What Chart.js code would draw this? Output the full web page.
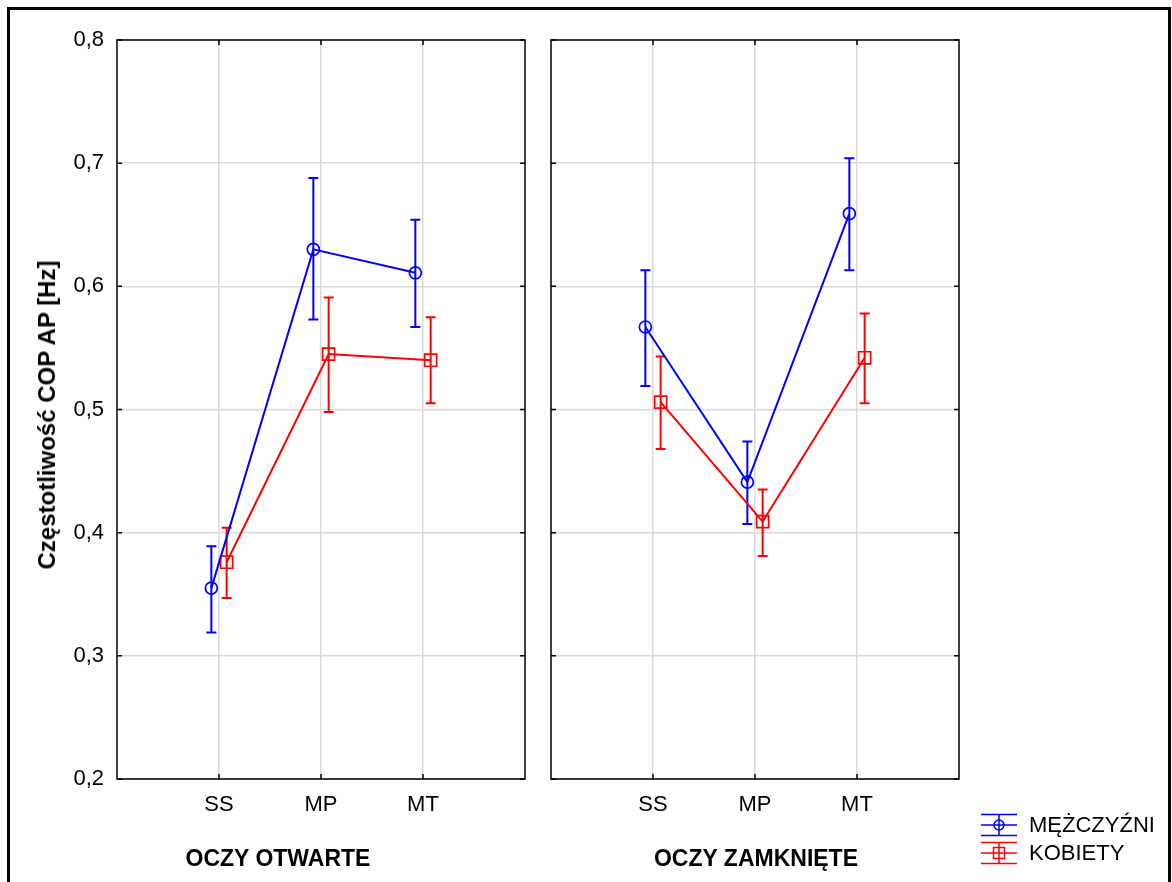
<!DOCTYPE html>
<html>
<head>
<meta charset="utf-8">
<script src="https://cdn.jsdelivr.net/npm/chart.js@4.4.1/dist/chart.umd.min.js"></script>
<style>
  body { margin: 0; background: #fff; overflow: hidden; }
  #page { position: relative; width: 1172px; height: 882px; overflow: hidden; background: #fff;
          font-family: "Liberation Sans", Arial, sans-serif; color: #000; }
  #frame { position: absolute; left: 7px; top: 7px; width: 1158px; height: 900px; border: 3px solid #000; }
  canvas { position: absolute; top: 0; }
  .title { position: absolute; font-weight: bold; font-size: 23px; white-space: nowrap;
           transform: translate(-50%, -50%); }
  #ytitle { left: 47px; top: 415px; font-size: 24px; transform: translate(-50%, -50%) rotate(-90deg); }
</style>
</head>
<body>
<div id="page">
  <div id="frame"></div>
  <canvas id="open" width="540" height="882" style="left:0"></canvas>
  <canvas id="closed" width="632" height="882" style="left:540px"></canvas>
  <div class="title" id="ytitle">Częstotliwość COP AP [Hz]</div>
  <div class="title" id="xtitle1" style="left:278px; top:858px"></div>
  <div class="title" id="xtitle2" style="left:756px; top:858px"></div>
</div>
<script>
const categories = ['SS', 'MP', 'MT'];
const panelTitles = ['OCZY OTWARTE', 'OCZY ZAMKNIĘTE'];
const groups = ['MĘŻCZYŹNI', 'KOBIETY'];
const yTicks = [0.2, 0.3, 0.4, 0.5, 0.6, 0.7, 0.8];

// oczy otwarte
const menOpen = [0.355, 0.630, 0.611];
const menOpenLow = [0.319, 0.573, 0.567];
const menOpenHigh = [0.389, 0.688, 0.654];
const womenOpen = [0.376, 0.545, 0.540];
const womenOpenLow = [0.347, 0.498, 0.505];
const womenOpenHigh = [0.404, 0.591, 0.575];

// oczy zamknięte
const menClosed = [0.567, 0.441, 0.659];
const menClosedLow = [0.519, 0.407, 0.613];
const menClosedHigh = [0.613, 0.474, 0.704];
const womenClosed = [0.506, 0.409, 0.542];
const womenClosedLow = [0.468, 0.381, 0.505];
const womenClosedHigh = [0.543, 0.435, 0.578];

const BLUE = '#0000ff';
const RED = '#ff0000';
const GRID = '#d9d9d9';
const dodge = 0.075;

Chart.defaults.font.family = '"Liberation Sans", Arial, sans-serif';
Chart.defaults.color = '#000';

document.getElementById('xtitle1').textContent = panelTitles[0];
document.getElementById('xtitle2').textContent = panelTitles[1];

function series(label, color, style, radius, means, low, high, shift) {
  return {
    label: label,
    data: means.map((v, i) => ({ x: i + 1 + shift, y: v })),
    errLow: low,
    errHigh: high,
    borderColor: color,
    borderWidth: 2,
    backgroundColor: 'rgba(0,0,0,0)',
    pointStyle: style,
    pointRadius: radius,
    pointBorderWidth: 1.7,
    pointBorderColor: color,
    pointBackgroundColor: 'rgba(0,0,0,0)',
    tension: 0
  };
}

// pionowe słupki błędów z poprzeczkami
const errorBars = {
  id: 'errorBars',
  beforeDatasetsDraw(chart) {
    const ctx = chart.ctx;
    const y = chart.scales.y;
    chart.data.datasets.forEach((ds, di) => {
      const meta = chart.getDatasetMeta(di);
      ctx.save();
      ctx.strokeStyle = ds.borderColor;
      ctx.lineWidth = 2;
      meta.data.forEach((pt, i) => {
        const top = y.getPixelForValue(ds.errHigh[i]);
        const bot = y.getPixelForValue(ds.errLow[i]);
        ctx.beginPath();
        ctx.moveTo(pt.x, top); ctx.lineTo(pt.x, bot);
        ctx.moveTo(pt.x - 5, top); ctx.lineTo(pt.x + 5, top);
        ctx.moveTo(pt.x - 5, bot); ctx.lineTo(pt.x + 5, bot);
        ctx.stroke();
      });
      ctx.restore();
    });
  }
};

// ramka panelu i krótkie znaczniki do środka
const panelFrame = {
  id: 'panelFrame',
  afterDatasetsDraw(chart) {
    const ctx = chart.ctx;
    const a = chart.chartArea;
    const t = 5;
    ctx.save();
    ctx.strokeStyle = '#000';
    ctx.lineWidth = 1.5;
    ctx.beginPath();
    chart.scales.y.ticks.forEach(tk => {
      const py = chart.scales.y.getPixelForValue(tk.value);
      ctx.moveTo(a.left, py); ctx.lineTo(a.left + t, py);
      ctx.moveTo(a.right, py); ctx.lineTo(a.right - t, py);
    });
    chart.scales.x.ticks.forEach(tk => {
      const px = chart.scales.x.getPixelForValue(tk.value);
      ctx.moveTo(px, a.top); ctx.lineTo(px, a.top + t);
      ctx.moveTo(px, a.bottom); ctx.lineTo(px, a.bottom - t);
    });
    ctx.stroke();
    ctx.strokeRect(a.left, a.top, a.right - a.left, a.bottom - a.top);
    ctx.restore();
  }
};

// legenda w prawym dolnym rogu
const sideLegend = {
  id: 'sideLegend',
  afterDraw(chart) {
    const ctx = chart.ctx;
    const a = chart.chartArea;
    const x0 = a.right + 22, x1 = a.right + 58, xc = (x0 + x1) / 2;
    ctx.save();
    chart.data.datasets.forEach((ds, i) => {
      const yc = a.bottom + 46 + i * 28;
      ctx.strokeStyle = ds.borderColor;
      ctx.lineWidth = 1.5;
      ctx.beginPath();
      [-10.5, 0, 10.5].forEach(d => { ctx.moveTo(x0, yc + d); ctx.lineTo(x1, yc + d); });
      ctx.moveTo(xc, yc - 10.5); ctx.lineTo(xc, yc + 10.5);
      ctx.stroke();
      ctx.beginPath();
      if (ds.pointStyle === 'circle') ctx.arc(xc, yc, 5, 0, Math.PI * 2);
      else ctx.rect(xc - 5.5, yc - 5.5, 11, 11);
      ctx.stroke();
      ctx.fillStyle = '#000';
      ctx.font = '22px "Liberation Sans", Arial, sans-serif';
      ctx.textBaseline = 'middle';
      ctx.fillText(ds.label, a.right + 70, yc + 1);
    });
    ctx.restore();
  }
};

function makeChart(id, datasets, showY, padRight, yWidth) {
  return new Chart(document.getElementById(id), {
    type: 'line',
    data: { datasets: datasets },
    plugins: [errorBars, panelFrame, sideLegend].slice(0, id === 'closed' ? 3 : 2),
    options: {
      responsive: false,
      animation: false,
      devicePixelRatio: 1,
      layout: { padding: { top: 40, right: padRight, left: 0, bottom: 0 } },
      plugins: { legend: { display: false }, tooltip: { enabled: false } },
      scales: {
        x: {
          type: 'linear',
          min: 0,
          max: 4,
          afterBuildTicks: s => { s.ticks = categories.map((c, i) => ({ value: i + 1 })); },
          afterFit: s => { s.height = 103; },
          ticks: {
            callback: v => categories[v - 1],
            font: { size: 22 },
            color: '#000',
            padding: 13,
            maxRotation: 0,
            autoSkip: false
          },
          grid: { color: GRID, lineWidth: 1.5, drawTicks: false },
          border: { display: false }
        },
        y: {
          min: 0.2,
          max: 0.8,
          afterBuildTicks: s => { s.ticks = yTicks.map(v => ({ value: v })); },
          afterFit: s => { s.width = yWidth; },
          ticks: {
            display: showY,
            callback: v => v.toFixed(1).replace('.', ','),
            font: { size: 22 },
            color: '#000',
            padding: 13
          },
          grid: { color: GRID, lineWidth: 1.5, drawTicks: false },
          border: { display: false }
        }
      }
    }
  });
}

makeChart('open', [
  series(groups[0], BLUE, 'circle', 6, menOpen, menOpenLow, menOpenHigh, -dodge),
  series(groups[1], RED, 'rect', 8.5, womenOpen, womenOpenLow, womenOpenHigh, dodge)
], true, 15, 117);

makeChart('closed', [
  series(groups[0], BLUE, 'circle', 6, menClosed, menClosedLow, menClosedHigh, -dodge),
  series(groups[1], RED, 'rect', 8.5, womenClosed, womenClosedLow, womenClosedHigh, dodge)
], false, 213, 11);
</script>
</body>
</html>
